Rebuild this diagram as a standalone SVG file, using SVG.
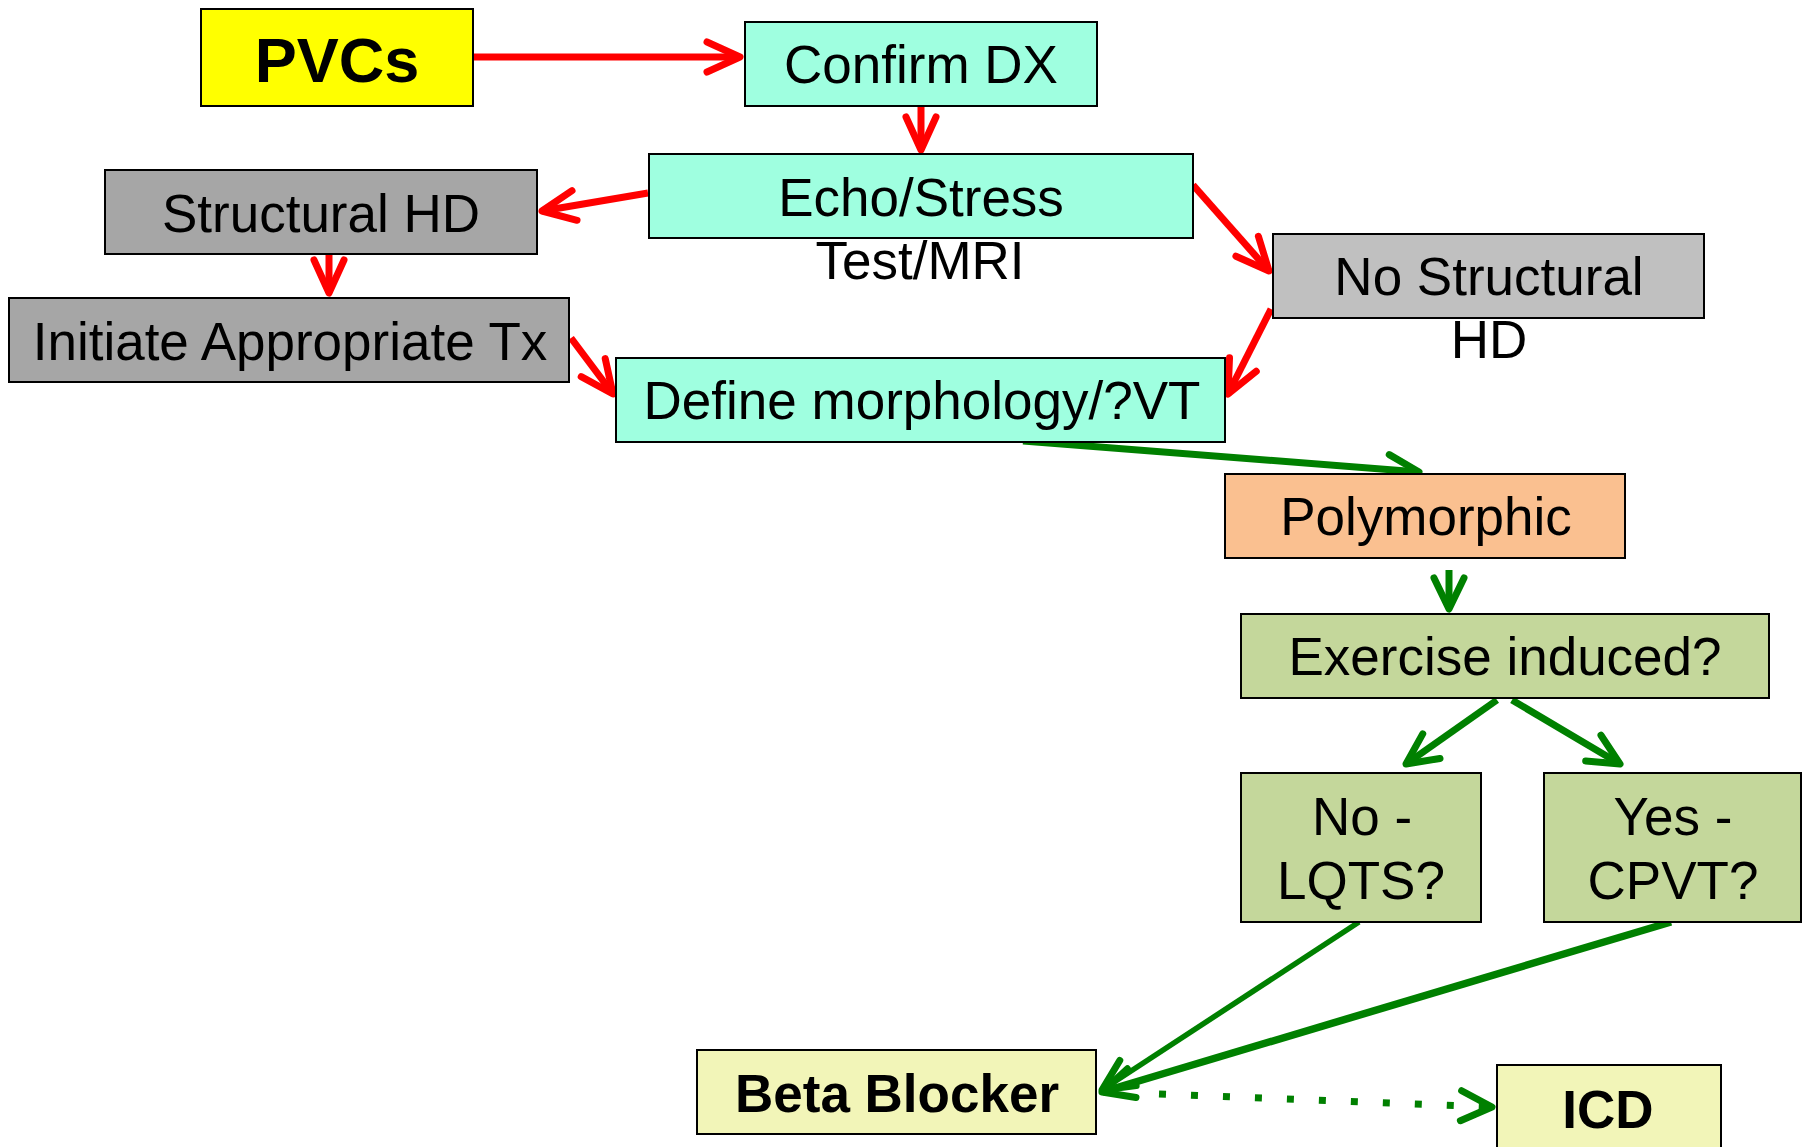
<svg xmlns="http://www.w3.org/2000/svg" width="1812" height="1147" viewBox="0 0 1812 1147">
<style>
.box{stroke:#000;stroke-width:2}
.t{font-family:"Liberation Sans",Arial,sans-serif;font-size:53px;fill:#000;text-anchor:middle}
.b{font-weight:bold}
.red{fill:none;stroke:#FF0000;stroke-width:7}
.grn{fill:none;stroke:#008000;stroke-width:6}
</style>
<defs>
<marker id="ar" markerUnits="userSpaceOnUse" markerWidth="80" markerHeight="80" refX="0" refY="0" orient="auto" overflow="visible">
<path d="M-33,-15 L0,0 L-33,15" fill="none" stroke="#FF0000" stroke-width="7" stroke-linecap="round" stroke-linejoin="round"/>
</marker>
<marker id="ag" markerUnits="userSpaceOnUse" markerWidth="80" markerHeight="80" refX="0" refY="0" orient="auto" overflow="visible">
<path d="M-31,-15 L0,0 L-31,15" fill="none" stroke="#008000" stroke-width="7" stroke-linecap="round" stroke-linejoin="round" stroke-dasharray="none"/>
</marker>
</defs>
<rect width="1812" height="1147" fill="#fff"/>
<g id="connectors">
<path class="red" d="M473,57 L740,57" marker-end="url(#ar)"/>
<path class="red" d="M921,106 L921,150" marker-end="url(#ar)"/>
<path class="red" d="M648,193 L542,211" marker-end="url(#ar)"/>
<path class="red" d="M1193,185 L1269,271" marker-end="url(#ar)"/>
<path class="red" d="M329,254 L329,293" marker-end="url(#ar)"/>
<path class="red" d="M571,338 L613,394" marker-end="url(#ar)"/>
<path class="red" d="M1271,309 L1228,394" marker-end="url(#ar)"/>
<path class="grn" style="stroke-width:7" d="M1023,441 L1419,472" marker-end="url(#ag)"/>
<path class="grn" style="stroke-width:7" d="M1449,570 L1449,609" marker-end="url(#ag)"/>
<path class="grn" style="stroke-width:7" d="M1497,700 L1406,764" marker-end="url(#ag)"/>
<path class="grn" style="stroke-width:7" d="M1512,700 L1620,764" marker-end="url(#ag)"/>
<path class="grn" style="stroke-width:5.5" d="M1359,922 L1102,1090" marker-end="url(#ag)"/>
<path class="grn" style="stroke-width:7.5" d="M1671,922 L1102,1092" marker-end="url(#ag)"/>
<path class="grn" style="stroke-width:7;stroke-dasharray:7 25" d="M1159,1094 L1492,1107"/>
<path class="grn" style="stroke-width:0" d="M1480,1106.5 L1492,1107" marker-end="url(#ag)"/>
</g>
<g id="pvcs"><rect class="box" x="201" y="9" width="272" height="97" fill="#FFFF00"/><text class="t b" x="337" y="82" style="font-size:63px">PVCs</text></g>
<g id="confirm"><rect class="box" x="745" y="22" width="352" height="84" fill="#9FFFE0"/><text class="t" x="921" y="83">Confirm DX</text></g>
<g id="echo"><rect class="box" x="649" y="154" width="544" height="84" fill="#9FFFE0"/><text class="t" x="921" y="216">Echo/Stress</text><text class="t" x="920" y="279">Test/MRI</text></g>
<g id="structural"><rect class="box" x="105" y="170" width="432" height="84" fill="#A6A6A6"/><text class="t" x="321" y="232">Structural HD</text></g>
<g id="initiate"><rect class="box" x="9" y="298" width="560" height="84" fill="#A6A6A6"/><text class="t" x="290" y="360">Initiate Appropriate Tx</text></g>
<g id="nostructural"><rect class="box" x="1273" y="234" width="431" height="84" fill="#C0C0C0"/><text class="t" x="1489" y="295">No Structural</text><text class="t" x="1489" y="358">HD</text></g>
<g id="define"><rect class="box" x="616" y="358" width="609" height="84" fill="#9FFFE0"/><text class="t" x="922" y="419">Define morphology/?VT</text></g>
<g id="polymorphic"><rect class="box" x="1225" y="474" width="400" height="84" fill="#FAC090"/><text class="t" x="1426" y="535">Polymorphic</text></g>
<g id="exercise"><rect class="box" x="1241" y="614" width="528" height="84" fill="#C4D79B"/><text class="t" x="1505" y="675">Exercise induced?</text></g>
<g id="lqts"><rect class="box" x="1241" y="773" width="240" height="149" fill="#C4D79B"/><text class="t" x="1362" y="835">No -</text><text class="t" x="1361" y="899">LQTS?</text></g>
<g id="cpvt"><rect class="box" x="1544" y="773" width="257" height="149" fill="#C4D79B"/><text class="t" x="1673" y="835">Yes -</text><text class="t" x="1673" y="899">CPVT?</text></g>
<g id="beta"><rect class="box" x="697" y="1050" width="399" height="84" fill="#F2F5B8"/><text class="t b" x="897" y="1112">Beta Blocker</text></g>
<g id="icd"><rect class="box" x="1497" y="1065" width="224" height="90" fill="#F2F5B8"/><text class="t b" x="1608" y="1128">ICD</text></g>
</svg>
